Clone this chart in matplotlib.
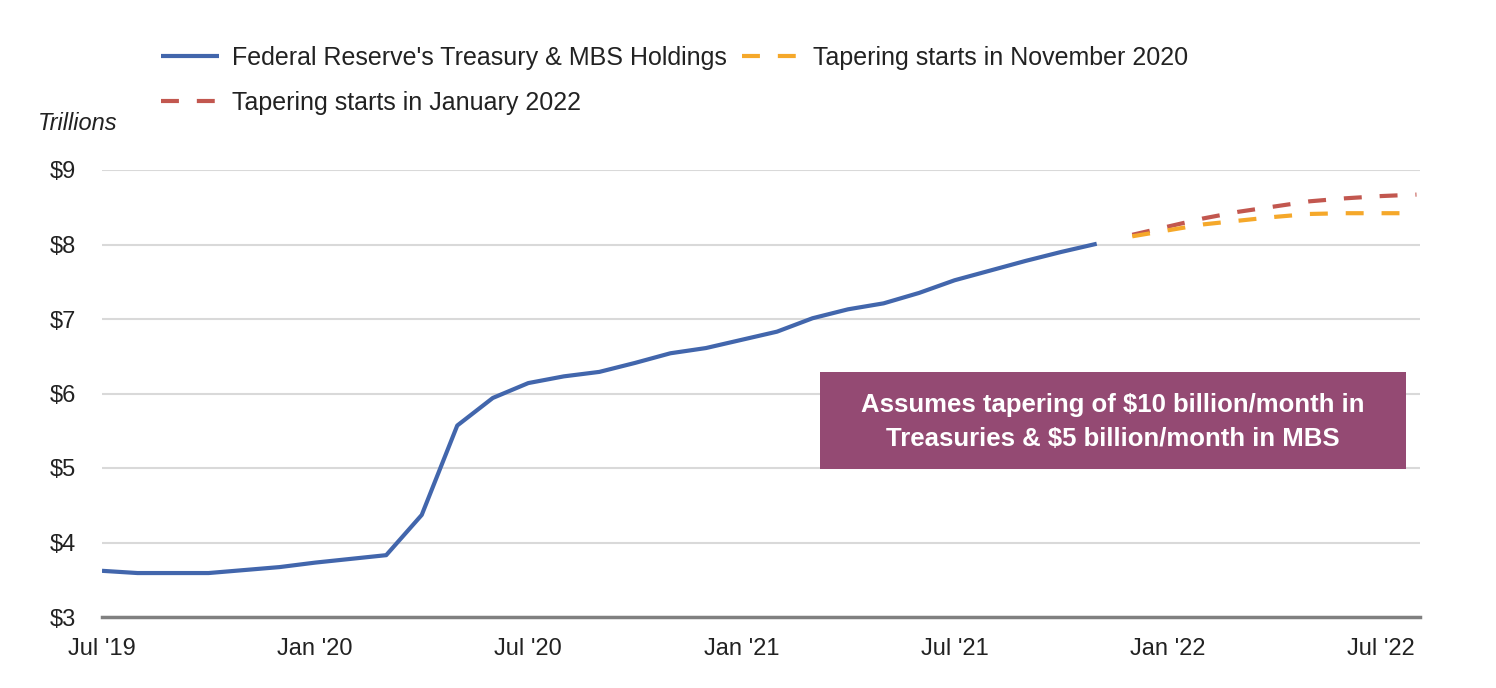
import matplotlib.pyplot as plt
from matplotlib.patches import Rectangle

plt.rcParams['font.family'] = ['Liberation Sans', 'DejaVu Sans']

# month index 0 = Jul '19
holdings_months = list(range(0, 29))
holdings = [3.62, 3.59, 3.59, 3.59, 3.63, 3.67, 3.73, 3.78, 3.83, 4.37,
            5.57, 5.94, 6.14, 6.23, 6.29, 6.41, 6.54, 6.61, 6.72, 6.83,
            7.01, 7.13, 7.21, 7.35, 7.52, 7.65, 7.78, 7.90, 8.01]

taper_months = list(range(29, 38))
taper_nov = [8.11, 8.19, 8.27, 8.32, 8.37, 8.41, 8.42, 8.42, 8.42]
taper_jan = [8.13, 8.24, 8.35, 8.44, 8.51, 8.58, 8.62, 8.65, 8.67]

tick_pos = [0, 6, 12, 18, 24, 30, 36]
tick_labels = ["Jul '19", "Jan '20", "Jul '20", "Jan '21", "Jul '21", "Jan '22", "Jul '22"]
y_ticks = [3, 4, 5, 6, 7, 8, 9]

blue = '#4266AC'
orange = '#F5A82A'
red = '#C2574F'
box_color = '#944A73'

fig = plt.figure(figsize=(14.96, 6.88), dpi=100)
ax = fig.add_axes([102 / 1496, 71 / 688, (1420 - 102) / 1496, (617 - 170) / 688])

l1, = ax.plot(holdings_months, holdings, color=blue, lw=3, zorder=4,
              solid_capstyle='butt', label="Federal Reserve's Treasury & MBS Holdings")
l3, = ax.plot(taper_months, taper_jan, color=red, lw=3, dashes=(4.3, 4.3), zorder=3,
              label='Tapering starts in January 2022')
l2, = ax.plot(taper_months, taper_nov, color=orange, lw=3, dashes=(4.3, 4.3), zorder=4,
              label='Tapering starts in November 2020')

ax.set_xlim(0, 37.1)
ax.set_ylim(3, 9)
ax.set_yticks(y_ticks)
ax.set_yticklabels(['$%d' % v for v in y_ticks])
ax.set_xticks(tick_pos)
ax.set_xticklabels(tick_labels)
ax.tick_params(axis='both', length=0, labelsize=17, colors='#222222')
ax.tick_params(axis='y', pad=19)
ax.tick_params(axis='x', pad=15)
ax.grid(axis='y', color='#D9D9D9', lw=1.5)
ax.set_axisbelow(True)
for s in ['top', 'right', 'left']:
    ax.spines[s].set_visible(False)
ax.spines['bottom'].set_color('#808080')
ax.spines['bottom'].set_linewidth(2.5)

fig.text(38 / 1496, 1 - 123 / 688, 'Trillions', fontsize=17, style='italic',
         va='center', ha='left', color='#222222')

# annotation box
ax.add_patch(Rectangle((820 / 1496, 1 - 469 / 688), (1406 - 820) / 1496, (469 - 372) / 688,
                       transform=fig.transFigure, facecolor=box_color, edgecolor='none',
                       zorder=5))
fig.text(1113 / 1496, 1 - 422 / 688,
         'Assumes tapering of $10 billion/month in\nTreasuries & $5 billion/month in MBS',
         color='white', fontsize=18.5, fontweight='bold', ha='center', va='center',
         linespacing=1.5, zorder=6)

fig.legend([l1, l3, l2], [l1.get_label(), l3.get_label(), l2.get_label()],
           ncol=2, loc='upper left', bbox_to_anchor=(138 / 1496, 1 - 23 / 688),
           frameon=False, fontsize=18, handlelength=2.35, handletextpad=0.5,
           columnspacing=0.6, labelspacing=0.85, labelcolor='#222222')

fig.savefig('out.png', dpi=100)
